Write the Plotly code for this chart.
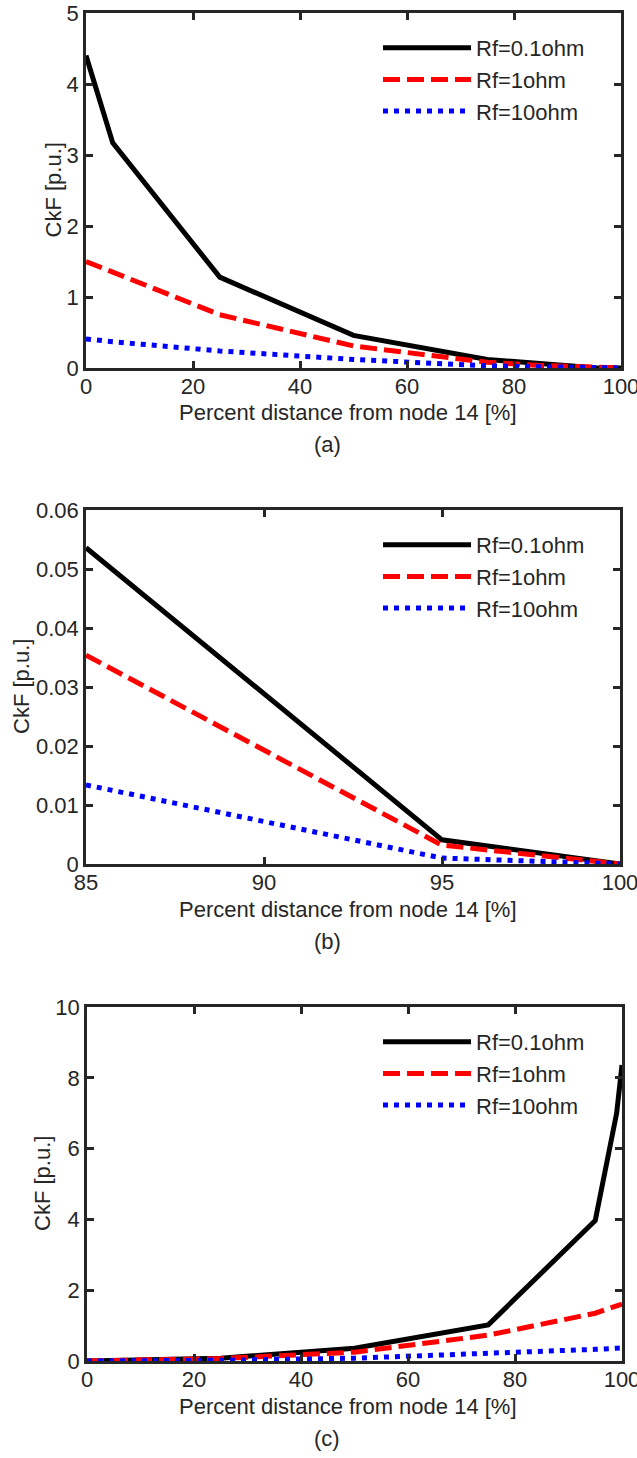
import plotly.graph_objects as go

W, H = 637, 1458

# ---------------- data ----------------
series_names = ["Rf=0.1ohm", "Rf=1ohm", "Rf=10ohm"]

dist_a = [0, 5, 25, 50, 75, 85, 95, 100]
a_rf01 = [4.40, 3.17, 1.28, 0.46, 0.12, 0.054, 0.004, 0.0]
a_rf1 = [1.50, 1.35, 0.75, 0.31, 0.08, 0.035, 0.003, 0.0]
a_rf10 = [0.41, 0.37, 0.24, 0.12, 0.03, 0.013, 0.001, 0.0]

dist_b = [85, 95, 100]
b_rf01 = [0.0536, 0.0041, 0.0]
b_rf1 = [0.0354, 0.0032, 0.0]
b_rf10 = [0.0134, 0.0010, 0.0]

dist_c = [0, 5, 25, 50, 75, 95, 99, 100]
c_rf01 = [0.0, 0.01, 0.08, 0.36, 1.02, 3.97, 7.00, 8.36]
c_rf1 = [0.0, 0.01, 0.07, 0.25, 0.73, 1.35, 1.55, 1.61]
c_rf10 = [0.0, 0.003, 0.02, 0.08, 0.20, 0.33, 0.36, 0.37]

xticks_a = [0, 20, 40, 60, 80, 100]
yticks_a = [0, 1, 2, 3, 4, 5]
xticks_b = [85, 90, 95, 100]
yticks_b = [0, 0.01, 0.02, 0.03, 0.04, 0.05, 0.06]
ytick_labels_b = ["0", "0.01", "0.02", "0.03", "0.04", "0.05", "0.06"]
xticks_c = [0, 20, 40, 60, 80, 100]
yticks_c = [0, 2, 4, 6, 8, 10]

x_title = "Percent distance from node 14 [%]"
y_title = "CkF [p.u.]"
panel_labels = ["(a)", "(b)", "(c)"]

# ---------------- styling ----------------
FONT = "Liberation Sans, Arial, Helvetica, sans-serif"
TXT = "#262626"
FS = 22
styles = [
    dict(color="black", width=5, dash="solid"),
    dict(color="#ff0000", width=5, dash="17px,7px"),
    dict(color="#0000ff", width=5, dash="5px,6px"),
]

def px_x(p):
    return p / W

def px_y(p):
    return 1 - p / H

# plot boxes in pixels: (left, right, top, bottom)
boxes = [(86, 621, 13, 368), (86, 620, 510, 864), (87, 622, 1007, 1361)]

fig = go.Figure()

panels = [
    (dist_a, [a_rf01, a_rf1, a_rf10]),
    (dist_b, [b_rf01, b_rf1, b_rf10]),
    (dist_c, [c_rf01, c_rf1, c_rf10]),
]
legend_keys = ["legend", "legend2", "legend3"]

for i, (xs, ys_list) in enumerate(panels):
    xa = "x" if i == 0 else f"x{i+1}"
    ya = "y" if i == 0 else f"y{i+1}"
    for name, ys, st in zip(series_names, ys_list, styles):
        fig.add_trace(go.Scatter(
            x=xs, y=ys, mode="lines", name=name,
            line=dict(color=st["color"], width=st["width"], dash=st["dash"]),
            xaxis=xa, yaxis=ya, legend=legend_keys[i], showlegend=True,
        ))

axis_common = dict(
    showline=True, linecolor=TXT, linewidth=2.5, mirror="ticks",
    ticks="inside", ticklen=7, tickwidth=2.5, tickcolor=TXT,
    showgrid=False, zeroline=False, automargin=False,
    ticklabeloverflow="allow",
    tickfont=dict(family=FONT, size=FS, color=TXT),
)

x_ranges = [[0, 100], [85, 100], [0, 100]]
y_ranges = [[0, 5], [0, 0.06], [0, 10]]
x_ticks = [xticks_a, xticks_b, xticks_c]
y_ticks = [yticks_a, yticks_b, yticks_c]
y_ticktexts = [[str(v) for v in yticks_a], ytick_labels_b, [str(v) for v in yticks_c]]

layout = dict(
    width=W, height=H,
    margin=dict(l=0, r=0, t=0, b=0, autoexpand=False),
    paper_bgcolor="white", plot_bgcolor="white",
    font=dict(family=FONT, size=FS, color=TXT),
)

for i, (l, r, t, b) in enumerate(boxes):
    suffix = "" if i == 0 else str(i + 1)
    layout[f"xaxis{suffix}"] = dict(
        axis_common, domain=[px_x(l), px_x(r)], range=x_ranges[i],
        tickvals=x_ticks[i], ticktext=[str(v) for v in x_ticks[i]],
        anchor=f"y{suffix}", ticklabelstandoff=-3,
    )
    layout[f"yaxis{suffix}"] = dict(
        axis_common, domain=[px_y(b), px_y(t)], range=y_ranges[i],
        tickvals=y_ticks[i], ticktext=y_ticktexts[i],
        anchor=f"x{suffix}",
    )
    leg = dict(
        x=px_x(378), xanchor="left", y=px_y(t + 14), yanchor="top",
        bgcolor="rgba(0,0,0,0)", borderwidth=0,
        font=dict(family=FONT, size=FS, color=TXT),
        itemwidth=88, tracegroupgap=0,
    )
    layout[legend_keys[i]] = leg

fig.update_layout(**layout)

ytitle_x = [53, 21, 42]
for i, (l, r, t, b) in enumerate(boxes):
    fig.add_annotation(
        text=x_title, xref="paper", yref="paper",
        x=px_x(348), y=px_y(b + 45), xanchor="center", yanchor="middle",
        showarrow=False, font=dict(family=FONT, size=FS, color=TXT),
    )
    fig.add_annotation(
        text=panel_labels[i], xref="paper", yref="paper",
        x=px_x(327), y=px_y(b + 77), xanchor="center", yanchor="middle",
        showarrow=False, font=dict(family=FONT, size=FS, color=TXT),
    )
    fig.add_annotation(
        text=y_title, xref="paper", yref="paper", textangle=-90,
        x=px_x(ytitle_x[i]), y=px_y((t + b) / 2), xanchor="center", yanchor="middle",
        showarrow=False, font=dict(family=FONT, size=FS, color=TXT),
    )

fig.write_html(
    "out.html",
    config={"displayModeBar": False},
    post_script="document.body.style.margin='0';document.body.style.overflow='hidden';",
)
